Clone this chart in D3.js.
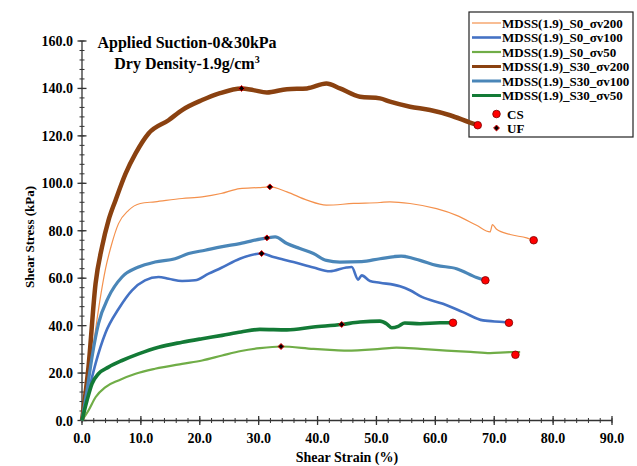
<!DOCTYPE html>
<html>
<head>
<meta charset="utf-8">
<script src="https://cdn.jsdelivr.net/npm/d3@7"></script>
<style>
    body { margin: 0; background: #fff; }
    svg text { font-family: "Liberation Serif", "Times New Roman", serif; font-weight: bold; fill: #000; }
</style>
</head>
<body>
<div id="chart"></div>
<script>
// [shear strain %, shear stress kPa]
const s0v200 = [[0,0],[1.0,15],[2.0,33],[3.0,50],[4.0,64],[5.0,74],[6.2,83],[7.9,88.6],[9.9,91.5],[12.4,92.2],[17.0,93.6],[20.4,94.3],[23.6,95.7],[26.8,97.8],[30.0,98.2],[31.9,98.5],[34.8,96.4],[38.2,92.9],[41.5,90.8],[46.1,91.5],[50.6,91.9],[52.3,92.2],[55.7,91.5],[60.2,89.3],[63.6,86.5],[67.0,82.3],[69.3,79.5],[69.7,82.6],[70.4,80.6],[72.7,78.4],[75.5,77.0],[76.7,76.0]];
const s0v100 = [[0,0],[1.1,12],[2.3,24],[4.0,37],[6.2,47],[8.5,54.9],[10.7,59.1],[13.0,60.5],[14.7,59.8],[17.0,58.8],[19.2,59.1],[21.5,61.9],[23.6,64.3],[26.8,68.2],[30.5,70.4],[32.5,68.9],[35.9,66.8],[39.3,64.5],[42.1,62.9],[44.9,64.5],[45.8,64.7],[46.9,59.4],[47.5,61.2],[48.9,58.8],[50.6,58.1],[54.0,56.6],[55.7,54.9],[57.7,52.1],[61.3,49.2],[64.7,45.7],[68.1,42.2],[71.5,41.5],[72.5,41.2]];
const s0v50 = [[0,0],[1.1,4.2],[2.3,9.8],[4.0,14.1],[6.2,16.9],[9.1,19.7],[12.4,21.8],[17.0,23.9],[20.4,25.3],[23.8,27.4],[27.0,29.3],[30.2,30.5],[33.8,31.2],[39.3,30.2],[42.1,29.8],[44.9,29.5],[50.6,30.2],[53.4,30.7],[57.5,30.2],[61.9,29.5],[66.0,28.9],[69.3,28.4],[72.7,28.8],[74.4,28.8]];
const s30v200 = [[0,0],[1.1,22.5],[2.3,57.7],[3.4,73.2],[4.5,84.4],[5.7,92.9],[7.4,104.1],[9.1,112.6],[11.3,121.0],[14.7,126.6],[17.0,130.9],[20.4,135.1],[23.3,137.9],[27.1,140.0],[29.1,139.3],[31.4,138.3],[34.8,139.7],[38.2,140.0],[41.5,142.1],[43.8,140.0],[47.2,136.5],[50.6,135.8],[52.3,134.4],[55.7,132.3],[59.1,130.9],[62.5,128.7],[65.9,125.6],[67.2,124.5]];
const s30v100 = [[0,0],[0.85,12.7],[1.7,26.7],[2.8,40.8],[4.5,52.0],[6.8,60.5],[9.6,64.7],[12.4,66.8],[15.8,68.2],[18.1,70.4],[20.9,71.8],[23.6,73.2],[26.8,74.6],[31.4,77.0],[32.8,77.4],[34.8,74.6],[37.0,72.5],[39.3,70.4],[41.5,67.5],[43.8,66.8],[47.5,67.0],[50.6,68.2],[54.2,69.3],[57.4,67.5],[60.2,65.4],[63.6,64.0],[67.0,60.3],[68.5,59.1]];
const s30v50 = [[0,0],[0.85,8.4],[1.7,15.5],[2.8,19.7],[4.5,22.5],[6.8,25.3],[9.6,28.1],[13.0,30.9],[17.0,33.0],[20.4,34.5],[23.8,35.9],[27.0,37.3],[30.2,38.4],[34.8,38.2],[39.3,39.4],[44.1,40.5],[47.2,41.5],[50.6,41.9],[51.7,40.8],[52.6,39.1],[53.7,39.7],[54.8,41.1],[57.4,40.8],[60.8,41.2],[63.0,41.2]];

const seriesNames = ["MDSS(1.9)_S0_σv200", "MDSS(1.9)_S0_σv100", "MDSS(1.9)_S0_σv50",
    "MDSS(1.9)_S30_σv200", "MDSS(1.9)_S30_σv100", "MDSS(1.9)_S30_σv50"];
const seriesData = [s0v200, s0v100, s0v50, s30v200, s30v100, s30v50];
const seriesColors = ["#f4914d", "#4472c4", "#70ad47", "#8a4110", "#4a86b8", "#137a36"];
const seriesWidths = [1.2, 2.6, 2.2, 4.5, 3.2, 3.6];

// critical state (end points) and ultimate failure points
const csPoints = [[76.7,76.0],[72.5,41.2],[73.6,27.7],[67.2,124.5],[68.5,59.1],[63.0,41.2]];
const ufPoints = [[31.9,98.5],[30.5,70.4],[33.8,31.2],[27.1,140.0],[31.4,77.0],[44.1,40.5]];

const xTicks = d3.range(0, 91, 10);
const yTicks = d3.range(0, 161, 20);

const width = 637, height = 466;
const svg = d3.select("#chart").append("svg")
    .attr("width", width)
    .attr("height", height);

svg.append("rect").attr("width", width).attr("height", height).attr("fill", "#fff");

const x = d3.scaleLinear().domain([0, 90]).range([82, 612]);
const y = d3.scaleLinear().domain([0, 160]).range([420.5, 41]);

// legend frame sits under the curves (brown end point is inside it)
const legend = svg.append("g");
legend.append("rect")
    .attr("x", 469).attr("y", 12)
    .attr("width", 164).attr("height", 125)
    .attr("fill", "none")
    .attr("stroke", "#222")
    .attr("stroke-width", 1.2);

// axes: minor ticks first, then major ticks crossing the line
const axisColor = "#333";
const xAxisG = svg.append("g");
xAxisG.append("line")
    .attr("x1", x(0)).attr("x2", x(90)).attr("y1", y(0)).attr("y2", y(0))
    .attr("stroke", axisColor).attr("stroke-width", 1.3);
xAxisG.selectAll(".minor").data(d3.range(0, 91, 2)).enter().append("line")
    .attr("x1", d => x(d)).attr("x2", d => x(d))
    .attr("y1", y(0) - 2.5).attr("y2", y(0) + 2.5)
    .attr("stroke", axisColor).attr("stroke-width", 1);
xAxisG.selectAll(".major").data(xTicks).enter().append("line")
    .attr("x1", d => x(d)).attr("x2", d => x(d))
    .attr("y1", y(0) - 4.5).attr("y2", y(0) + 4.5)
    .attr("stroke", axisColor).attr("stroke-width", 1.3);
xAxisG.selectAll("text").data(xTicks).enter().append("text")
    .attr("x", d => x(d))
    .attr("y", 443)
    .attr("text-anchor", "middle")
    .style("font-size", "14px")
    .text(d => d3.format(".1f")(d));

const yAxisG = svg.append("g");
yAxisG.append("line")
    .attr("x1", x(0)).attr("x2", x(0)).attr("y1", y(0)).attr("y2", y(160))
    .attr("stroke", axisColor).attr("stroke-width", 1.3);
yAxisG.selectAll(".minor").data(d3.range(0, 161, 4)).enter().append("line")
    .attr("x1", x(0) - 2.5).attr("x2", x(0) + 2.5)
    .attr("y1", d => y(d)).attr("y2", d => y(d))
    .attr("stroke", axisColor).attr("stroke-width", 1);
yAxisG.selectAll(".major").data(yTicks).enter().append("line")
    .attr("x1", x(0) - 4.5).attr("x2", x(0) + 4.5)
    .attr("y1", d => y(d)).attr("y2", d => y(d))
    .attr("stroke", axisColor).attr("stroke-width", 1.3);
yAxisG.selectAll("text").data(yTicks).enter().append("text")
    .attr("x", 73)
    .attr("y", d => y(d) + 5)
    .attr("text-anchor", "end")
    .style("font-size", "14px")
    .text(d => d3.format(".1f")(d));

svg.append("text")
    .attr("x", 347).attr("y", 462)
    .attr("text-anchor", "middle")
    .style("font-size", "14px")
    .text("Shear Strain (%)");

svg.append("text")
    .attr("transform", "translate(34,237) rotate(-90)")
    .attr("text-anchor", "middle")
    .style("font-size", "13px")
    .text("Shear Stress (kPa)");

// curves
const line = d3.line()
    .x(d => x(d[0]))
    .y(d => y(d[1]))
    .curve(d3.curveMonotoneX);

svg.selectAll(".curve").data(seriesData).enter().append("path")
    .attr("class", "curve")
    .attr("d", line)
    .attr("fill", "none")
    .attr("stroke", (d, i) => seriesColors[i])
    .attr("stroke-width", (d, i) => seriesWidths[i])
    .attr("stroke-linejoin", "round");

// markers
svg.selectAll(".cs").data(csPoints).enter().append("circle")
    .attr("cx", d => x(d[0]))
    .attr("cy", d => y(d[1]))
    .attr("r", 3.8)
    .attr("fill", "#ff0000")
    .attr("stroke", "#7a0000")
    .attr("stroke-width", 0.8);

const diamond = d3.symbol().type(d3.symbolDiamond2).size(22);
svg.selectAll(".uf").data(ufPoints).enter().append("path")
    .attr("d", diamond)
    .attr("transform", d => `translate(${x(d[0])},${y(d[1])})`)
    .attr("fill", "#000")
    .attr("stroke", "#e00000")
    .attr("stroke-width", 1);

// title
svg.append("text")
    .attr("x", 187).attr("y", 48)
    .attr("text-anchor", "middle")
    .style("font-size", "16px")
    .text("Applied Suction-0&30kPa");

const sub = svg.append("text")
    .attr("x", 187).attr("y", 69)
    .attr("text-anchor", "middle")
    .style("font-size", "16px")
    .text("Dry Density-1.9g/cm");
sub.append("tspan")
    .attr("dy", -6)
    .style("font-size", "10px")
    .text("3");

// legend entries
const rowY = [23, 37.5, 52, 66.5, 81, 95.5];
seriesNames.forEach((name, i) => {
    legend.append("line")
        .attr("x1", 472).attr("x2", 501)
        .attr("y1", rowY[i]).attr("y2", rowY[i])
        .attr("stroke", seriesColors[i])
        .attr("stroke-width", Math.min(seriesWidths[i], 3));
    legend.append("text")
        .attr("x", 502).attr("y", rowY[i] + 4.5)
        .style("font-size", "13px")
        .text(name);
});

legend.append("circle")
    .attr("cx", 496.5).attr("cy", 114)
    .attr("r", 3.8)
    .attr("fill", "#ff0000")
    .attr("stroke", "#7a0000")
    .attr("stroke-width", 0.8);
legend.append("text")
    .attr("x", 507).attr("y", 118.5)
    .style("font-size", "13px")
    .text("CS");

legend.append("path")
    .attr("d", diamond)
    .attr("transform", "translate(496.5,128)")
    .attr("fill", "#000")
    .attr("stroke", "#e00000")
    .attr("stroke-width", 1);
legend.append("text")
    .attr("x", 507).attr("y", 132.5)
    .style("font-size", "13px")
    .text("UF");
</script>
</body>
</html>
